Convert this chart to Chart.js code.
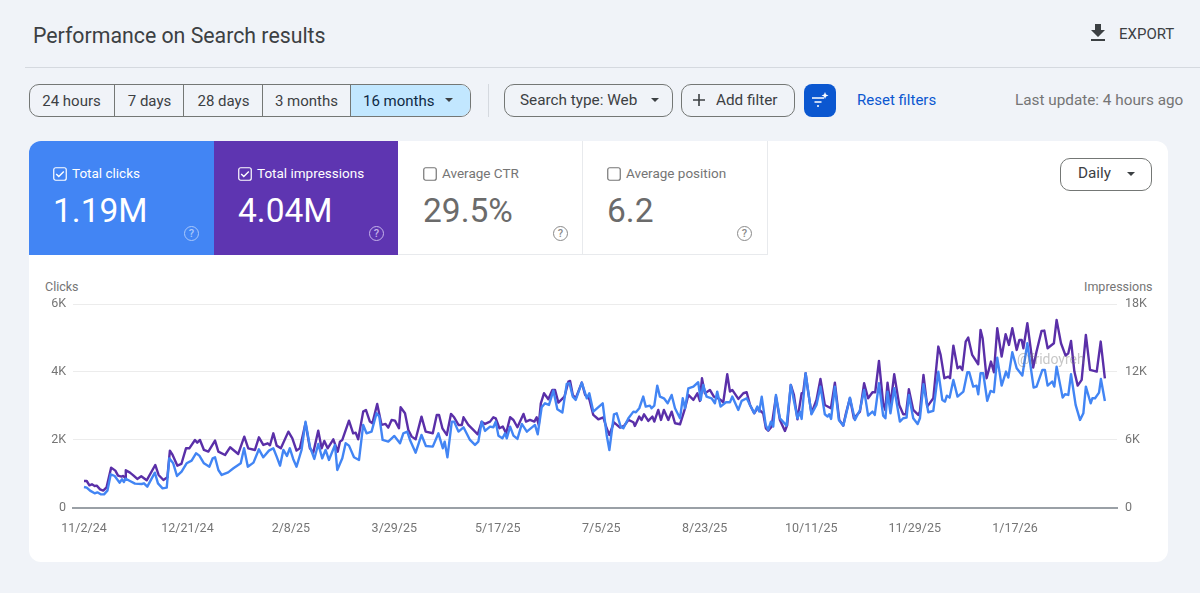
<!DOCTYPE html>
<html><head><meta charset="utf-8">
<script src="https://cdn.jsdelivr.net/npm/chart.js@4"></script>
<style>
html,body{margin:0;padding:0;width:1200px;height:593px;overflow:hidden;background:#f0f3f8;font-family:Roboto,sans-serif;}
.a{position:absolute;white-space:nowrap;line-height:1;}
.btn{position:absolute;box-sizing:border-box;border:1px solid #747775;border-radius:10px;height:33px;top:84px;}
.seg{position:absolute;top:84px;height:33px;box-sizing:border-box;display:flex;align-items:center;justify-content:center;font-size:15px;color:#3c4043;}
.tri{position:absolute;width:0;height:0;border-left:4.5px solid transparent;border-right:4.5px solid transparent;border-top:4.5px solid #3c4043;}
.help{position:absolute;width:13px;height:13px;border-radius:50%;border:1.5px solid;font-size:11px;line-height:13px;text-align:center;font-weight:500;}
</style></head><body>
<div class="a" style="left:33px;top:25px;font-size:21.3px;color:#3c4043;">Performance on Search results</div>
<div class="a" style="left:25px;top:67px;width:1175px;height:1px;background:#d5d9df;"></div>
<svg class="a" style="left:1086px;top:21px" width="24" height="24" viewBox="0 0 24 24"><path fill="#3c4043" d="M19 9h-4V3H9v6H5l7 7 7-7zM5 18v2h14v-2H5z"/></svg>
<div class="a" style="left:1119px;top:27px;font-size:15px;color:#3c4043;">EXPORT</div>

<div class="btn" style="left:29px;width:442px;overflow:hidden;">
  <div style="position:absolute;left:320px;top:0;width:122px;height:33px;background:#c2e7ff;"></div>
</div>
<div class="seg" style="left:29px;width:85px;">24 hours</div>
<div class="seg" style="left:114px;width:70px;border-left:1px solid #747775;">7 days</div>
<div class="seg" style="left:183px;width:80px;border-left:1px solid #747775;">28 days</div>
<div class="seg" style="left:262px;width:88px;border-left:1px solid #747775;">3 months</div>
<div class="seg" style="left:350px;width:121px;border-left:1px solid #747775;justify-content:flex-start;padding-left:12px;color:#0f2a44;font-size:15px;">16 months</div>
<div class="tri" style="left:445px;top:98px;"></div>
<div class="a" style="left:488px;top:84px;width:1px;height:33px;background:#d5d9df;"></div>
<div class="btn" style="left:504px;width:169px;"></div>
<div class="a" style="left:520px;top:93px;font-size:15.3px;color:#3c4043;">Search type: Web</div>
<div class="tri" style="left:651px;top:98px;"></div>
<div class="btn" style="left:681px;width:114px;"></div>
<svg class="a" style="left:692px;top:93px" width="14" height="14" viewBox="0 0 14 14"><path d="M7 1v12M1 7h12" stroke="#3c4043" stroke-width="1.6"/></svg>
<div class="a" style="left:716px;top:93px;font-size:15.3px;color:#3c4043;">Add filter</div>
<div class="a" style="left:804px;top:84px;width:32px;height:33px;border-radius:8px;background:#0b57d0;"></div>
<svg class="a" style="left:811px;top:91px" width="18" height="18" viewBox="0 0 18 18"><path d="M1 7h12M3.5 11h7M6 15h2" stroke="#fff" stroke-width="1.7"/><path d="M14 1l1 2.5 2.5 1-2.5 1-1 2.5-1-2.5-2.5-1 2.5-1z" fill="#fff"/></svg>
<div class="a" style="left:857px;top:93px;font-size:15px;color:#0b57d0;">Reset filters</div>
<div class="a" style="left:1015px;top:93px;font-size:15.3px;color:#757575;">Last update: 4 hours ago</div>

<div class="a" style="left:29px;top:141px;width:1139px;height:421px;background:#fff;border-radius:12px;"></div>
<div class="a" style="left:29px;top:141px;width:185px;height:114px;background:#4285f4;border-top-left-radius:12px;"></div>
<div class="a" style="left:214px;top:141px;width:184px;height:114px;background:#5e35b1;"></div>
<div class="a" style="left:398px;top:254px;width:369px;height:1px;background:#e8eaed;"></div>
<div class="a" style="left:582px;top:141px;width:1px;height:114px;background:#e8eaed;"></div>
<div class="a" style="left:767px;top:141px;width:1px;height:114px;background:#e8eaed;"></div>

<svg class="a" style="left:53px;top:167px" width="14" height="14" viewBox="0 0 14 14"><rect x=".75" y=".75" width="12.5" height="12.5" rx="2" fill="none" stroke="#fff" stroke-width="1.2"/><path d="M3.2 7l2.6 2.6 5-5.2" fill="none" stroke="#fff" stroke-width="1.4"/></svg>
<div class="a" style="left:72px;top:167px;font-size:13.5px;color:#fff;">Total clicks</div>
<div class="a" style="left:53px;top:194px;font-size:33.5px;color:#fff;">1.19M</div>
<div class="help" style="left:184px;top:226px;color:#a9c8fb;border-color:#a9c8fb;">?</div>

<svg class="a" style="left:238px;top:167px" width="14" height="14" viewBox="0 0 14 14"><rect x=".75" y=".75" width="12.5" height="12.5" rx="2" fill="none" stroke="#fff" stroke-width="1.2"/><path d="M3.2 7l2.6 2.6 5-5.2" fill="none" stroke="#fff" stroke-width="1.4"/></svg>
<div class="a" style="left:257px;top:167px;font-size:13.5px;color:#fff;">Total impressions</div>
<div class="a" style="left:238px;top:194px;font-size:33.5px;color:#fff;">4.04M</div>
<div class="help" style="left:369px;top:226px;color:#c5b3ea;border-color:#c5b3ea;">?</div>

<svg class="a" style="left:423px;top:167px" width="14" height="14" viewBox="0 0 14 14"><rect x=".75" y=".75" width="12.5" height="12.5" rx="2" fill="none" stroke="#757575" stroke-width="1.2"/></svg>
<div class="a" style="left:442px;top:167px;font-size:13.5px;color:#757575;">Average CTR</div>
<div class="a" style="left:423px;top:194px;font-size:33.5px;color:#6b6b6b;">29.5%</div>
<div class="help" style="left:553px;top:226px;color:#8a8a8a;border-color:#8a8a8a;">?</div>

<svg class="a" style="left:607px;top:167px" width="14" height="14" viewBox="0 0 14 14"><rect x=".75" y=".75" width="12.5" height="12.5" rx="2" fill="none" stroke="#757575" stroke-width="1.2"/></svg>
<div class="a" style="left:626px;top:167px;font-size:13.5px;color:#757575;">Average position</div>
<div class="a" style="left:607px;top:194px;font-size:33.5px;color:#6b6b6b;">6.2</div>
<div class="help" style="left:737px;top:226px;color:#8a8a8a;border-color:#8a8a8a;">?</div>

<div class="btn" style="left:1060px;top:158px;width:92px;"></div>
<div class="a" style="left:1078px;top:166px;font-size:15.3px;color:#3c4043;">Daily</div>
<div class="tri" style="left:1127px;top:172px;"></div>

<div class="a" style="left:45px;top:281px;font-size:12.5px;color:#757575;">Clicks</div>
<div class="a" style="left:1084px;top:281px;font-size:12.5px;color:#757575;">Impressions</div>

<div class="a" style="left:29px;top:270px;width:1139px;height:280px;"><canvas id="c" width="1139" height="280" style="width:1139px;height:280px;display:block;"></canvas></div>
<div class="a" style="left:1017px;top:352px;font-size:14px;color:rgba(120,120,120,.42);">@fridoyreh</div>

<script>
const tickLabels=["11/2/24","12/21/24","2/8/25","3/29/25","5/17/25","7/5/25","8/23/25","10/11/25","11/29/25","1/17/26"];
const tickDays=[0,49.5,99,148.5,198,247.5,297,348,397.5,445.5];
const clickTicks=[0,2000,4000,6000];
const imprTicks=[0,6000,12000,18000];

const clickDays=[0,1.3,2.9,5.1,6.4,8,9.6,11.2,12.8,14.7,17,18.2,19.1,19.8,22,24.4,27.6,28.7,30.3,33.9,35.4,37.6,39.6,40.8,42.7,44.5,46.7,49.1,51.5,53.6,55.2,57.4,60,61.6,62.7,64.3,65.9,69,71.5,73.1,75,76.6,78.4,81.1,
83.7,85.8,88.5,90.6,92.2,93.8,95.4,97.1,98.5,100.1,101.7,104.1,106,108.1,110.2,112.1,114,115.6,117.2,120.1,121.2,123.6,125.2,126.8,129.2,131.6,133.6,135.2,137.6,140,141.3,142.9,145.6,148.5,151.2,152.8,154.7,156,158.7,161.5,163.6,
166.9,169.6,171.7,172.6,173.9,176,177.1,179.2,181.6,184.7,187.1,188.7,190.3,191.9,194.3,195.9,197,198.3,200.2,201.5,202.3,203.9,205.5,207.4,209.5,211.9,215.8,217.1,219,220.6,222.5,224.6,226.5,228.9,231,232.3,233.9,235.3,238.2,240.6,241.8,243.7,248.2,
250.1,251.4,253.6,254.9,256.8,258.1,260.5,262.9,264.1,265.7,267.6,268.8,270.8,271.6,272.9,274.3,275.6,277.5,279.3,281.2,282.8,285.2,286.5,287.6,289.2,291.6,293.9,295.1,296.3,297.9,300.3,301.9,303,304.6,307.2,309.1,310.2,313.1,314.7,317.1,318.7,320.7,322.2,323.1,324.3,326.2,327.4,328.7,329.8,331.1,
333,336.2,338.2,341.4,342.6,343.4,345.3,348.1,350.5,352.4,354.5,355.8,356.6,357.5,359.3,361.2,363.3,364.6,366.5,368.9,371.3,373.3,375.2,377.3,378.4,380.4,382.4,383.5,384.5,385.9,387.7,390.4,392,393.6,394.7,396.8,398.9,400,401.7,404,406.4,
408.8,410.7,412,412.9,414.2,416,418,420.8,422.7,423.6,425.5,427.1,427.9,429,430.3,432.2,433.8,435.4,437,439.1,441.2,442.3,444.2,446.3,449,451.4,454.4,455.8,458.6,459.8,461.1,463.3,464.3,465.4,468.3,469.4,471,472.3,474.5,476.6,478.2,479.4,481.7,482.5,483.8,485.7,486.6,488.5];
const clickValues=[605,585,497,418,447,388,388,497,978,929,732,831,752,850,782,703,693,713,614,1027,713,565,585,1450,1303,929,1057,1303,1381,1598,1529,1303,1204,1450,1480,1106,959,1037,1155,1224,1303,1746,1204,1323,
1716,1480,1677,1746,1500,1234,1696,1519,1746,1431,1204,1696,2532,1795,1431,1873,1450,1696,1401,1844,1106,1450,1893,1824,1480,1401,2434,2188,2237,2778,2680,1991,1942,2109,1893,2188,2237,1991,1617,2139,1814,
1795,2188,1746,1942,1480,2532,2532,2237,2365,1991,1844,1942,2532,2257,2385,2365,2532,2119,2040,2188,2040,2385,2119,2021,2463,2237,2434,2159,2955,3073,3024,3447,2896,2798,3643,3663,3270,3171,3683,3220,3368,2827,3073,
2139,1696,2749,2778,2385,2336,2631,2827,2808,2926,3270,2975,3004,2926,3004,3594,3270,3220,3073,3319,2926,2631,3220,2926,3515,3565,3693,3171,3614,3270,3220,3073,3417,2975,3102,3102,3270,2876,3142,3220,3024,2778,2975,2827,3270,2434,2286,2532,2385,3319,
2631,2414,3614,2631,2827,2611,3958,2749,3024,3565,2749,2680,2749,2611,3565,2581,2414,2729,3240,2581,2876,3466,2709,2827,2729,3663,2709,2631,3417,2778,3515,2532,2631,2650,3319,2631,2463,2631,3633,2808,2847,
4007,3171,3122,3299,3240,3761,3270,3417,3988,3988,3565,3594,3339,3958,3958,3142,3437,3398,4420,3594,4007,3830,4578,4105,3889,4843,3535,3565,4056,4056,3594,3712,3565,4154,3240,3339,3319,3928,3024,2581,2778,3565,3073,3220,3220,3388,3791,3142];

const imprDays=[0,1.3,2.6,3.8,5.1,6.1,7.7,9.2,10.8,13,15,16.3,17.9,18.8,19.8,20,22,23.6,25.5,27.4,30,34.1,35.7,38,39.9,41.1,42.4,44.7,46.6,48.8,50.4,53.1,54.2,55.5,57.4,59.5,62.7,64.3,67.5,69.9,73.8,76.7,78.6,81.8,
83.7,85.8,87.9,89,90.6,92.2,94.2,97.8,99.7,101.7,103.3,106,108.1,109.7,112.1,113.7,115,116.6,119.3,121.4,122.5,123.6,126.8,128.8,130,131.2,133.6,134.9,136.8,138,140.3,142.4,144.3,145.6,147.2,148.8,150.7,151.5,153.6,155.2,156.8,158.7,161.5,163.5,
166.9,168.8,169.9,171.5,173.6,175.6,177.1,179.2,180.8,181.6,183.9,186.3,188.4,190.3,191.9,194.3,195.9,197,198.8,200.4,202,203.9,205.5,207.4,210.3,211.5,213.4,215.5,216.6,217.6,218.6,220.1,222.2,224.1,225.4,227,229.9,231.8,232.6,233.9,235.3,238.2,239.8,241.8,243.7,246.1,248.5,
250.1,251.4,253.6,256.5,258.4,260.5,262.9,263.6,265.7,266.8,268,270,272,272.9,274.8,276.1,277.5,279.6,281.2,282.8,285.2,287.6,289.2,291.6,293.5,294.7,295.7,297.1,299.5,301.4,304,305.9,307.8,309.1,310.2,313.1,315.5,317.1,318.7,320.7,322.2,325,326.3,327.4,329,331.1,
333,335.4,336.5,338.2,339.7,341.4,343.4,344.1,345.3,346.5,348.1,350.5,352.4,354.5,357.4,359.3,361.4,363.3,364.6,366.5,368.4,371.3,373.3,375.2,377.3,378.6,380.4,382.4,383.4,384.5,385.9,387.7,390.1,392,393.3,394.7,396.8,399.2,400,401.7,403.5,406.4,
408.8,409.9,411.7,413.6,414.4,416,418,419.2,420.3,421.9,423.1,425,427.9,429,430,431.9,434,435.4,437,439.1,441,442.6,444.2,446.3,447.6,448.7,449.5,451.4,454.2,455.8,458.2,459.5,461.1,464.1,465.4,467.5,469.7,471,472.3,473.9,475.5,477.4,479.4,481.4,484.6,486.5,488.5];
const imprValues=[2345,2345,1962,2050,1903,1932,1608,1490,1785,3525,3260,2817,2728,2788,2581,3290,3083,2847,2522,2758,2404,3761,2876,2434,2670,5030,4646,3702,3850,5236,5236,5974,5737,5974,5089,4941,5915,4941,4646,5325,4735,6269,5236,5089,
6210,5531,5679,5502,6564,5472,5236,6711,6121,5030,5236,7449,5236,4852,6800,5236,5885,5236,6033,4941,5826,5974,7685,6564,6623,6033,8481,8629,7596,7449,9160,7301,7390,7065,7744,7685,7006,8865,8334,6859,6269,6033,8039,6711,
6564,8186,8186,7006,6416,8275,7980,7301,7301,7980,7301,6859,6475,7596,7390,7596,7980,7892,7006,7154,6564,7980,7744,7095,8275,7596,7744,7596,7980,7301,9219,10104,9573,10399,10399,9277,9808,11136,11195,9956,9661,11047,9956,9573,8186,7803,7980,
7006,6416,7538,7065,7213,7744,7538,7213,8039,7744,8245,7655,8039,7596,8629,7744,8629,7744,8481,7449,7360,8777,9956,9514,10104,9425,11431,10104,10399,9808,9602,9307,11785,10251,10399,9602,10104,10193,9071,8334,8777,8334,7006,6800,7154,9808,
7744,6770,7301,10841,9956,7803,10104,10104,11874,10251,8334,9514,11372,9071,8777,11047,7744,7242,8334,9661,7892,8481,10989,9661,10193,10193,12965,9219,8629,11047,9071,11785,9071,8245,8245,10458,8629,8186,8481,11726,8924,9661,
14234,13496,11431,11579,11431,14322,12316,12464,12169,14676,15030,13496,12670,15709,14971,11431,12906,11962,15856,13349,15326,14381,15856,13939,14824,14824,14087,16299,12375,13791,15620,15650,14087,14529,16594,14529,13437,13644,14735,12021,10782,11284,15266,12169,12021,14676,11431];

const fmtK=v=>v===0?"0":(v/1000)+"K";
const pts=(xs,ys)=>xs.map((x,i)=>({x:x,y:ys[i]}));
Chart.defaults.font.family="Roboto, sans-serif";
new Chart(document.getElementById("c"),{
  type:"line",
  data:{datasets:[
    {label:"Clicks",data:pts(clickDays,clickValues),yAxisID:"y",borderColor:"#4285f4",borderWidth:2.4,borderJoinStyle:"round",pointRadius:0,tension:0,fill:false},
    {label:"Impressions",data:pts(imprDays,imprValues),yAxisID:"y1",borderColor:"#5a2fa8",borderWidth:2.4,borderJoinStyle:"round",pointRadius:0,tension:0,fill:false}
  ]},
  options:{
    responsive:false,animation:false,
    layout:{padding:{top:34,left:0,right:0,bottom:0}},
    plugins:{legend:{display:false},tooltip:{enabled:false}},
    scales:{
      x:{type:"linear",min:-5.26,max:494.3,
        afterBuildTicks:s=>{s.ticks=tickDays.map(v=>({value:v}));},
        afterFit:s=>{s.height=42.5;},
        grid:{display:false,drawTicks:false},border:{color:"#9aa0a6",width:2},
        ticks:{color:"#757575",font:{size:12.5},padding:14,maxRotation:0,autoSkip:false,
          callback:(v,i)=>tickLabels[i]}},
      y:{position:"left",min:0,max:6000,
        afterBuildTicks:s=>{s.ticks=clickTicks.map(v=>({value:v}));},
        afterFit:s=>{s.width=44;},
        grid:{color:"#ececec",lineWidth:1,drawTicks:false},border:{display:false},
        ticks:{color:"#757575",font:{size:12.5},padding:7,callback:fmtK}},
      y1:{position:"right",min:0,max:18000,
        afterBuildTicks:s=>{s.ticks=imprTicks.map(v=>({value:v}));},
        afterFit:s=>{s.width=51;},
        grid:{display:false,drawTicks:false},border:{display:false},
        ticks:{color:"#757575",font:{size:12.5},padding:8,callback:fmtK}}
    }
  }
});
</script>
</body></html>
